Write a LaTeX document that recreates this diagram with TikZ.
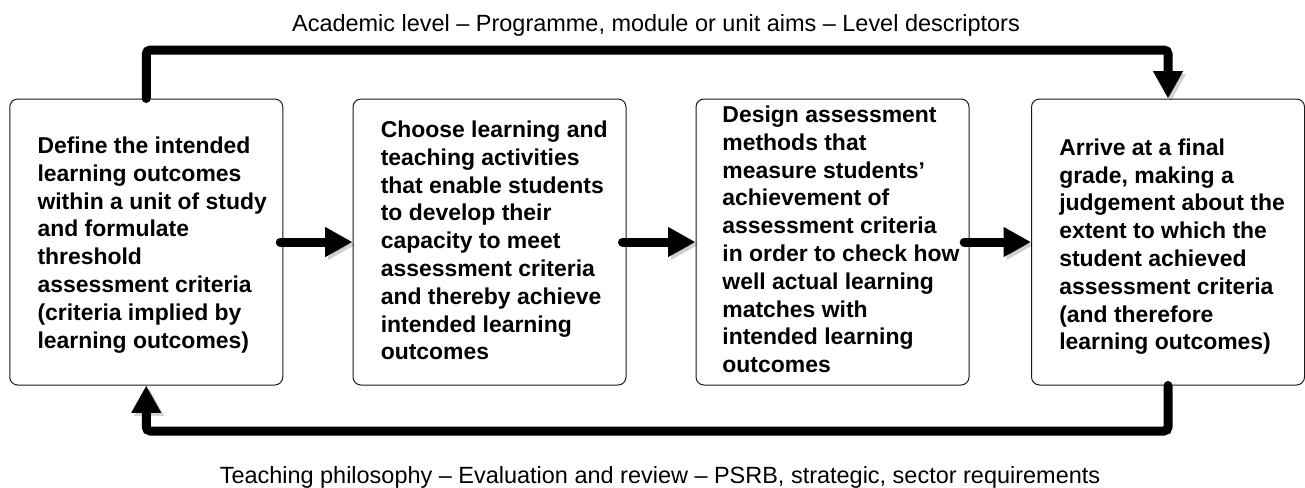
\documentclass[tikz,border=0pt]{standalone}
\usepackage{fontspec}
\setmainfont{Liberation Sans}
\usetikzlibrary{arrows.meta}
\begin{document}
\begin{tikzpicture}[x=0.75pt,y=-0.75pt,
  stage/.style={draw=black!90, line width=0.75pt, rounded corners=6pt,
    minimum width=204.75pt, minimum height=214.5pt, inner sep=0pt},
  stagetext/.style={anchor=west, align=left, inner sep=0pt,
    font=\fontsize{17.2}{20.85}\selectfont\bfseries},
  flow/.style={line width=6.75pt, line cap=round,
    -{Triangle[length=20.5pt,width=21pt]},
    preaction={draw=black, draw opacity=0.18, fill opacity=0.18,
      transform canvas={xshift=2.2pt,yshift=-2.2pt}}},
  cycle/.style={flow, rounded corners=3pt},
  caption/.style={font=\fontsize{17.6}{21}\selectfont, inner sep=0pt, anchor=base}]
\useasboundingbox (0,0) rectangle (1305,487);

% the four stages of the cycle
\node[stage] (b1) at (146.25,242) {};
\node[stage] (b2) at (489.5,242) {};
\node[stage] (b3) at (832.5,242) {};
\node[stage] (b4) at (1168,242) {};

\node[stagetext] (t1) at ([xshift=21pt,yshift=-2.25pt]b1.west) {Define the intended\\learning outcomes\\within a unit of study\\and formulate\\threshold\\assessment criteria\\(criteria implied by\\learning outcomes)};
\node[stagetext] (t2) at ([xshift=21pt,yshift=1.2pt]b2.west) {Choose learning and\\teaching activities\\that enable students\\to develop their\\capacity to meet\\assessment criteria\\and thereby achieve\\intended learning\\outcomes};
\node[stagetext] (t3) at ([xshift=20pt,yshift=2pt]b3.west) {Design assessment\\methods that\\measure students’\\achievement of\\assessment criteria\\in order to check how\\well actual learning\\matches with\\intended learning\\outcomes};
\node[stagetext] (t4) at ([xshift=21pt,yshift=-3.5pt]b4.west) {Arrive at a final\\grade, making a\\judgement about the\\extent to which the\\student achieved\\assessment criteria\\(and therefore\\learning outcomes)};

% forward arrows between stages
\draw[flow] ([xshift=-2.25pt]b1.east) -- (b2.west);
\draw[flow] ([xshift=-3pt]b2.east) -- (b3.west);
\draw[flow] ([xshift=-4pt]b3.east) -- (b4.west);

% outer feedback loops
\coordinate (topy) at (0,50);
\coordinate (boty) at (0,431);
\draw[cycle] (b1.north) -- (b1.north |- topy) -| (b4.north);
\draw[cycle] (b4.south) -- (b4.south |- boty) -| (b1.south);

\node[caption] (toplabel) at (656,31.5) {Academic level – Programme, module or unit aims – Level descriptors};
\node[caption] (botlabel) at (660,483) {Teaching philosophy – Evaluation and review – PSRB, strategic, sector requirements};
\end{tikzpicture}
\end{document}
